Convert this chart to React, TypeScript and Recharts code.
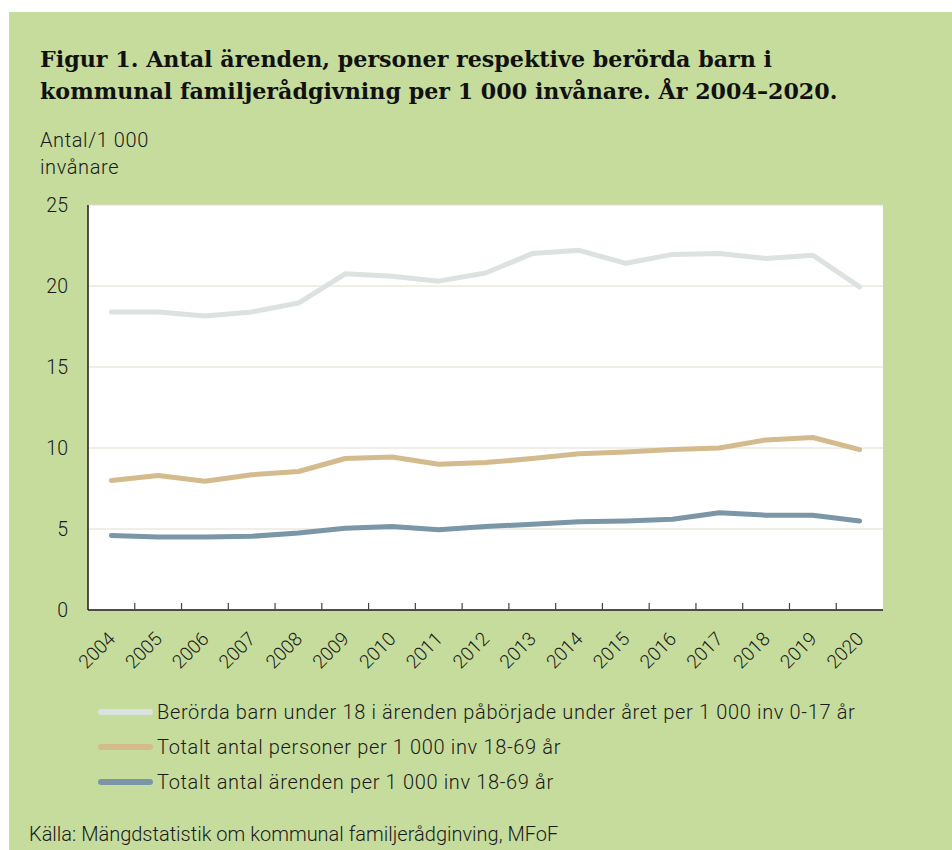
import React from "react"
import { LineChart, Line, XAxis, YAxis, CartesianGrid } from "recharts"

const years = ["2004", "2005", "2006", "2007", "2008", "2009", "2010", "2011", "2012",
  "2013", "2014", "2015", "2016", "2017", "2018", "2019", "2020"]

// Berörda barn under 18 per 1 000 inv 0-17 år
const barn = [18.4, 18.4, 18.15, 18.4, 18.95, 20.75, 20.6, 20.3, 20.8, 22.0, 22.2, 21.4, 21.95, 22.0, 21.7, 21.9, 19.95]
// Totalt antal personer per 1 000 inv 18-69 år
const personer = [8.0, 8.3, 7.95, 8.35, 8.55, 9.35, 9.45, 9.0, 9.1, 9.35, 9.65, 9.75, 9.9, 10.0, 10.5, 10.65, 9.9]
// Totalt antal ärenden per 1 000 inv 18-69 år
const arenden = [4.6, 4.5, 4.5, 4.55, 4.75, 5.05, 5.15, 4.95, 5.15, 5.3, 5.45, 5.5, 5.6, 6.0, 5.85, 5.85, 5.5]

const yTicks = [0, 5, 10, 15, 20, 25]

const series = [
  { key: "barn", name: "Berörda barn under 18 i ärenden påbörjade under året per 1 000 inv 0-17 år", color: "#dce2df" },
  { key: "personer", name: "Totalt antal personer per 1 000 inv 18-69 år", color: "#d3bb8d" },
  { key: "arenden", name: "Totalt antal ärenden per 1 000 inv 18-69 år", color: "#7b97a7" },
]

const data = years.map((year, i) => ({
  year,
  barn: barn[i],
  personer: personer[i],
  arenden: arenden[i],
}))

const W = 952
const H = 850
const MARGIN = { top: 205, right: 69, left: 38, bottom: 180 }
const Y_AXIS_W = 50
const PLOT_W = W - MARGIN.left - Y_AXIS_W - MARGIN.right
const BAND = PLOT_W / years.length

const BG = "#c5dc9c"
const INK = "#1a1a1a"
const SANS = "Roboto, 'Noto Sans', sans-serif"

const YearTick = (props: any) => {
  const { x, y, payload, index } = props
  const lx = x - BAND / 2
  const tx = x + 5
  const ty = y + 30
  return (
    <g>
      {index > 0 && (
        <line x1={lx} x2={lx} y1={y} y2={y - 7} stroke="#444" strokeWidth={1.2} />
      )}
      <text
        x={tx}
        y={ty}
        transform={`rotate(-45 ${tx} ${ty})`}
        textAnchor="end"
        fill={INK}
        fontSize={19}
        fontWeight={300}
        fontFamily={SANS}
      >
        {payload.value}
      </text>
    </g>
  )
}

export default function App() {
  return (
    <div style={{ position: "absolute", left: 0, top: 0, width: W, height: H, overflow: "hidden", background: "#fff" }}>
      <div style={{ position: "absolute", left: 9, top: 12, right: 0, bottom: 0, background: BG }} />

      <div style={{ position: "absolute", left: 40, top: 43, fontFamily: "'DejaVu Serif', serif", fontWeight: 700, fontSize: 22.2, lineHeight: "32px", color: "#111", whiteSpace: "nowrap" }}>
        Figur 1. Antal ärenden, personer respektive berörda barn i<br />
        kommunal familjerådgivning per 1 000 invånare. År 2004–2020.
      </div>

      <div style={{ position: "absolute", left: 40, top: 127, fontFamily: SANS, fontWeight: 300, fontSize: 20, letterSpacing: 0.6, lineHeight: "26.6px", color: INK }}>
        Antal/1 000<br />invånare
      </div>

      <div style={{ position: "absolute", left: 0, top: 0 }}>
        <LineChart width={W} height={H} data={data} margin={MARGIN}>
          <CartesianGrid vertical={false} fill="#ffffff" stroke="#e2ddcd" strokeWidth={1.2} />
          <XAxis
            dataKey="year"
            scale="band"
            interval={0}
            tickSize={0}
            tickMargin={0}
            tickLine={false}
            height={60}
            axisLine={{ stroke: INK, strokeWidth: 1.5 }}
            tick={<YearTick />}
          />
          <XAxis xAxisId="top" dataKey="year" orientation="top" height={0} tick={false} tickLine={false} axisLine={{ stroke: INK, strokeWidth: 1.5 }} />
          <YAxis
            domain={[0, 25]}
            ticks={yTicks}
            width={Y_AXIS_W}
            tickLine={false}
            tickSize={0}
            tickMargin={20}
            axisLine={{ stroke: INK, strokeWidth: 1.5 }}
            tick={{ fill: INK, fontSize: 19.5, fontWeight: 300, fontFamily: SANS }}
          />
          <YAxis yAxisId="right" orientation="right" width={0} tick={false} tickLine={false} axisLine={{ stroke: INK, strokeWidth: 1.5 }} />
          {series.map(s => (
            <Line
              key={s.key}
              type="linear"
              dataKey={s.key}
              name={s.name}
              stroke={s.color}
              strokeWidth={5}
              strokeLinecap="round"
              strokeLinejoin="round"
              dot={false}
              activeDot={false}
              isAnimationActive={false}
            />
          ))}
        </LineChart>
      </div>

      <div style={{ position: "absolute", left: 98, top: 694, fontFamily: SANS, fontWeight: 300, fontSize: 20, letterSpacing: 0.65, color: INK }}>
        {series.map(s => (
          <div key={s.key} style={{ display: "flex", alignItems: "center", height: 35, whiteSpace: "nowrap" }}>
            <span style={{ display: "inline-block", width: 55, height: 6, borderRadius: 3, background: s.color, marginRight: 4 }} />
            <span>{s.name}</span>
          </div>
        ))}
      </div>

      <div style={{ position: "absolute", left: 29, top: 822, fontFamily: SANS, fontWeight: 300, fontSize: 20, lineHeight: "24px", color: INK, whiteSpace: "nowrap" }}>
        Källa: Mängdstatistik om kommunal familjerådginving, MFoF
      </div>
    </div>
  )
}
